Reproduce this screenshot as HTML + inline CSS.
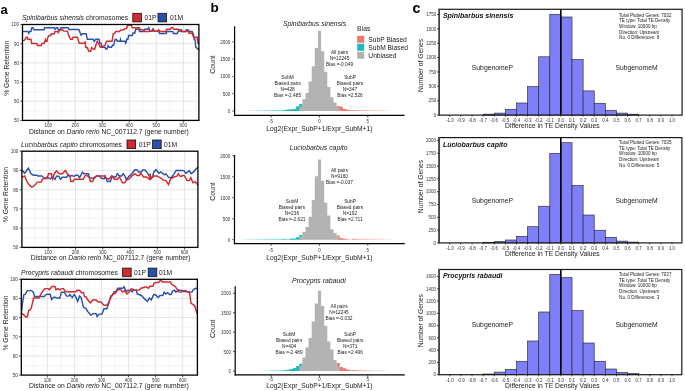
<!DOCTYPE html><html><head><meta charset="utf-8"><style>html,body{margin:0;padding:0;background:#fff;width:685px;height:391px;overflow:hidden}svg{display:block;will-change:transform;filter:blur(0.3px)}text{font-family:"Liberation Sans",sans-serif}</style></head><body><svg width="685" height="391" viewBox="0 0 685 391"><defs><linearGradient id="gT" x1="0" x2="1" y1="0" y2="0"><stop offset="0" stop-color="#1fbcbf" stop-opacity="0.15"/><stop offset="1" stop-color="#1fbcbf" stop-opacity="0.75"/></linearGradient><linearGradient id="gR" x1="0" x2="1" y1="0" y2="0"><stop offset="0" stop-color="#f4776e" stop-opacity="0.75"/><stop offset="1" stop-color="#f4776e" stop-opacity="0.12"/></linearGradient></defs><rect width="685" height="391" fill="#fff"/><text x="0.4" y="14.4" font-size="13" text-anchor="start" fill="#000" font-weight="bold" font-style="normal" >a</text>
<text x="210.6" y="12.1" font-size="13.5" text-anchor="start" fill="#000" font-weight="bold" font-style="normal" >b</text>
<text x="412.4" y="12.6" font-size="14.2" text-anchor="start" fill="#000" font-weight="bold" font-style="normal" >c</text>
<line x1="34.71" y1="24.5" x2="34.71" y2="120.4" stroke="#ebebeb" stroke-width="0.5" />
<line x1="48.22" y1="24.5" x2="48.22" y2="120.4" stroke="#dadada" stroke-width="0.7" />
<line x1="61.73" y1="24.5" x2="61.73" y2="120.4" stroke="#ebebeb" stroke-width="0.5" />
<line x1="75.24" y1="24.5" x2="75.24" y2="120.4" stroke="#dadada" stroke-width="0.7" />
<line x1="88.75" y1="24.5" x2="88.75" y2="120.4" stroke="#ebebeb" stroke-width="0.5" />
<line x1="102.26" y1="24.5" x2="102.26" y2="120.4" stroke="#dadada" stroke-width="0.7" />
<line x1="115.77" y1="24.5" x2="115.77" y2="120.4" stroke="#ebebeb" stroke-width="0.5" />
<line x1="129.28" y1="24.5" x2="129.28" y2="120.4" stroke="#dadada" stroke-width="0.7" />
<line x1="142.79" y1="24.5" x2="142.79" y2="120.4" stroke="#ebebeb" stroke-width="0.5" />
<line x1="156.3" y1="24.5" x2="156.3" y2="120.4" stroke="#dadada" stroke-width="0.7" />
<line x1="169.81" y1="24.5" x2="169.81" y2="120.4" stroke="#ebebeb" stroke-width="0.5" />
<line x1="183.32" y1="24.5" x2="183.32" y2="120.4" stroke="#dadada" stroke-width="0.7" />
<line x1="196.83" y1="24.5" x2="196.83" y2="120.4" stroke="#ebebeb" stroke-width="0.5" />
<line x1="22.5" y1="110.81" x2="198.9" y2="110.81" stroke="#ebebeb" stroke-width="0.5" />
<line x1="22.5" y1="101.22" x2="198.9" y2="101.22" stroke="#dadada" stroke-width="0.7" />
<line x1="22.5" y1="91.63" x2="198.9" y2="91.63" stroke="#ebebeb" stroke-width="0.5" />
<line x1="22.5" y1="82.04" x2="198.9" y2="82.04" stroke="#dadada" stroke-width="0.7" />
<line x1="22.5" y1="72.45" x2="198.9" y2="72.45" stroke="#ebebeb" stroke-width="0.5" />
<line x1="22.5" y1="62.86" x2="198.9" y2="62.86" stroke="#dadada" stroke-width="0.7" />
<line x1="22.5" y1="53.27" x2="198.9" y2="53.27" stroke="#ebebeb" stroke-width="0.5" />
<line x1="22.5" y1="43.68" x2="198.9" y2="43.68" stroke="#dadada" stroke-width="0.7" />
<line x1="22.5" y1="34.09" x2="198.9" y2="34.09" stroke="#ebebeb" stroke-width="0.5" />
<polyline points="22.2,31.5 28,31.5 28.8,33.3 29.5,31.5 31,31.5 31.7,27.8 32.8,27.5 33.9,29.7 44.1,29.7 44.5,27.7 54.3,27.7 55,29.3 56.5,27.7 57.6,27.7 58.3,29.7 59.8,29.7 60.9,27.7 68.2,27.7 69,29.4 78.9,29.4 80.3,33.3 81.1,35.1 82.2,33.7 86.2,33.7 87.3,39.3 93.1,39.3 94.2,41.3 95.7,39.3 99,39.3 100,43.3 101.2,43.5 101.9,47.3 104.8,47.3 105.9,49 107,49 108.1,45.7 109.2,47.3 111.4,47.3 112.5,45.3 113.6,45.3 115,39.5 116.5,39.5 117.2,41.3 120,41.3 120.5,39.5 121,41.3 125.3,41.3 125.6,43.1 126.1,42.4 126.8,39.2 127.9,39.2 128.6,35.5 132.3,35.5 133,33 134.9,33 135.6,29.3 138.9,29.3 139.6,31.5 144,31.5 144.7,29.3 147.6,29.3 148.7,27.7 149.8,31.1 151.6,31.1 152.7,29.3 153.5,31.1 158.6,31.1 159.7,33.5 166.2,33.5 166.9,31.5 172.8,31.5 173.5,33.5 177.2,33.5 178.2,31.5 179.7,29.7 181.2,29.7 181.9,31.5 185.5,31.5 186.6,29.7 187.7,29.7 188.8,31.5 192.1,31.5 193.2,33.7 194.3,39.5 195,39.5 195.8,47.2 198,49 199.2,49.5" fill="none" stroke="#2a50ae" stroke-width="1.45" stroke-linejoin="miter" stroke-linecap="butt"/>
<polyline points="22.2,40.6 24,40.6 25.1,39.2 26.2,37.3 27.3,37.3 27.7,39.3 31,39.3 31.7,43.5 36.8,43.5 37.5,45.4 41.2,45.4 41.9,43.5 44.1,43.5 44.8,41.3 45.5,39.5 46,41.3 47,41.3 47.7,37.7 49.2,35.5 50.7,35.5 51.4,33.7 54.3,33.7 55,31.5 58,31.5 58.3,33.3 58.7,31.5 59.8,30 62,30 62.3,29.3 63.8,31.1 67.4,31.1 68.5,35.1 70.5,39.3 72.3,39.3 73,37.3 77.4,37.3 79.2,43.2 84.7,43.2 85.1,41.3 85.8,47.5 87.3,47.5 88.8,51.2 90.6,51.2 91.7,47.5 93.5,49.3 94.6,49.3 95.7,45.7 97.2,41.3 98.6,43.5 100.4,47.3 104.8,45.7 106.6,41.3 112.1,41.3 113.2,33.6 114.3,33.6 115.8,31.5 119.4,31.5 120.9,30 124,29.8 125,28.6 126.5,28.6 127.6,25.3 131.2,25.3 132.3,27.7 139.2,27.7 140.3,29.7 142.9,29.7 144.7,31.5 149.8,31.5 150.5,31.1 152.7,31.1 153.5,29.3 154.2,31.1 157.8,31.1 158.6,29.7 160,31.5 165.9,31.5 166.6,29.3 170.3,29.3 171.4,27.7 172.8,27.7 173.9,29.3 178.2,29.3 179.7,31.1 181.9,31.5 188.5,31.5 188.6,29.7 189.2,33.3 192.1,33.3 193.6,37.3 197.2,37.3 198,43.2 199.2,43" fill="none" stroke="#d32a2e" stroke-width="1.45" stroke-linejoin="miter" stroke-linecap="butt"/>
<rect x="22.5" y="24.5" width="176.4" height="95.9" fill="none" stroke="#000" stroke-width="1.3" />
<line x1="20.3" y1="120.4" x2="22.5" y2="120.4" stroke="#222" stroke-width="0.8" />
<text x="19" y="122.3" font-size="4.6" text-anchor="end" fill="#333333" font-weight="normal" font-style="normal" >50</text>
<line x1="20.3" y1="101.22" x2="22.5" y2="101.22" stroke="#222" stroke-width="0.8" />
<text x="19" y="103.12" font-size="4.6" text-anchor="end" fill="#333333" font-weight="normal" font-style="normal" >60</text>
<line x1="20.3" y1="82.04" x2="22.5" y2="82.04" stroke="#222" stroke-width="0.8" />
<text x="19" y="83.94" font-size="4.6" text-anchor="end" fill="#333333" font-weight="normal" font-style="normal" >70</text>
<line x1="20.3" y1="62.86" x2="22.5" y2="62.86" stroke="#222" stroke-width="0.8" />
<text x="19" y="64.76" font-size="4.6" text-anchor="end" fill="#333333" font-weight="normal" font-style="normal" >80</text>
<line x1="20.3" y1="43.68" x2="22.5" y2="43.68" stroke="#222" stroke-width="0.8" />
<text x="19" y="45.58" font-size="4.6" text-anchor="end" fill="#333333" font-weight="normal" font-style="normal" >90</text>
<line x1="20.3" y1="24.5" x2="22.5" y2="24.5" stroke="#222" stroke-width="0.8" />
<text x="19" y="26.4" font-size="4.6" text-anchor="end" fill="#333333" font-weight="normal" font-style="normal" >100</text>
<line x1="48.22" y1="120.4" x2="48.22" y2="122.6" stroke="#222" stroke-width="0.8" />
<text x="48.22" y="126.8" font-size="4.5" text-anchor="middle" fill="#333333" font-weight="normal" font-style="normal" >100</text>
<line x1="75.24" y1="120.4" x2="75.24" y2="122.6" stroke="#222" stroke-width="0.8" />
<text x="75.24" y="126.8" font-size="4.5" text-anchor="middle" fill="#333333" font-weight="normal" font-style="normal" >200</text>
<line x1="102.26" y1="120.4" x2="102.26" y2="122.6" stroke="#222" stroke-width="0.8" />
<text x="102.26" y="126.8" font-size="4.5" text-anchor="middle" fill="#333333" font-weight="normal" font-style="normal" >300</text>
<line x1="129.28" y1="120.4" x2="129.28" y2="122.6" stroke="#222" stroke-width="0.8" />
<text x="129.28" y="126.8" font-size="4.5" text-anchor="middle" fill="#333333" font-weight="normal" font-style="normal" >400</text>
<line x1="156.3" y1="120.4" x2="156.3" y2="122.6" stroke="#222" stroke-width="0.8" />
<text x="156.3" y="126.8" font-size="4.5" text-anchor="middle" fill="#333333" font-weight="normal" font-style="normal" >500</text>
<line x1="183.32" y1="120.4" x2="183.32" y2="122.6" stroke="#222" stroke-width="0.8" />
<text x="183.32" y="126.8" font-size="4.5" text-anchor="middle" fill="#333333" font-weight="normal" font-style="normal" >600</text>
<text x="22" y="19.7" font-size="6.75" text-anchor="start" fill="#1a1a1a" font-weight="normal" font-style="normal" ><tspan font-style="italic">Spinibarbus sinensis</tspan> chromosomes</text>
<rect x="132.8" y="13.3" width="8.6" height="8.6" fill="#d32a2e" stroke="#111" stroke-width="0.8" />
<text x="144.5" y="19.7" font-size="6.75" text-anchor="start" fill="#1a1a1a" font-weight="normal" font-style="normal" >01P</text>
<rect x="158" y="13.3" width="8.6" height="8.6" fill="#2a50ae" stroke="#111" stroke-width="0.8" />
<text x="169.9" y="19.7" font-size="6.75" text-anchor="start" fill="#1a1a1a" font-weight="normal" font-style="normal" >01M</text>
<text x="29" y="133.5" font-size="6.75" text-anchor="start" fill="#1a1a1a" font-weight="normal" font-style="normal" >Distance on <tspan font-style="italic">Danio rerio</tspan> NC_007112.7 (gene number)</text>
<text x="0" y="0" font-size="6.75" fill="#1a1a1a" text-anchor="middle" transform="translate(9.2,68.2) rotate(-90)">% Gene Retention</text>
<line x1="34.54" y1="151.2" x2="34.54" y2="247.4" stroke="#ebebeb" stroke-width="0.5" />
<line x1="48.18" y1="151.2" x2="48.18" y2="247.4" stroke="#dadada" stroke-width="0.7" />
<line x1="61.82" y1="151.2" x2="61.82" y2="247.4" stroke="#ebebeb" stroke-width="0.5" />
<line x1="75.46" y1="151.2" x2="75.46" y2="247.4" stroke="#dadada" stroke-width="0.7" />
<line x1="89.1" y1="151.2" x2="89.1" y2="247.4" stroke="#ebebeb" stroke-width="0.5" />
<line x1="102.74" y1="151.2" x2="102.74" y2="247.4" stroke="#dadada" stroke-width="0.7" />
<line x1="116.38" y1="151.2" x2="116.38" y2="247.4" stroke="#ebebeb" stroke-width="0.5" />
<line x1="130.02" y1="151.2" x2="130.02" y2="247.4" stroke="#dadada" stroke-width="0.7" />
<line x1="143.66" y1="151.2" x2="143.66" y2="247.4" stroke="#ebebeb" stroke-width="0.5" />
<line x1="157.3" y1="151.2" x2="157.3" y2="247.4" stroke="#dadada" stroke-width="0.7" />
<line x1="170.94" y1="151.2" x2="170.94" y2="247.4" stroke="#ebebeb" stroke-width="0.5" />
<line x1="184.58" y1="151.2" x2="184.58" y2="247.4" stroke="#dadada" stroke-width="0.7" />
<line x1="21.9" y1="237.78" x2="197.9" y2="237.78" stroke="#ebebeb" stroke-width="0.5" />
<line x1="21.9" y1="228.16" x2="197.9" y2="228.16" stroke="#dadada" stroke-width="0.7" />
<line x1="21.9" y1="218.54" x2="197.9" y2="218.54" stroke="#ebebeb" stroke-width="0.5" />
<line x1="21.9" y1="208.92" x2="197.9" y2="208.92" stroke="#dadada" stroke-width="0.7" />
<line x1="21.9" y1="199.3" x2="197.9" y2="199.3" stroke="#ebebeb" stroke-width="0.5" />
<line x1="21.9" y1="189.68" x2="197.9" y2="189.68" stroke="#dadada" stroke-width="0.7" />
<line x1="21.9" y1="180.06" x2="197.9" y2="180.06" stroke="#ebebeb" stroke-width="0.5" />
<line x1="21.9" y1="170.44" x2="197.9" y2="170.44" stroke="#dadada" stroke-width="0.7" />
<line x1="21.9" y1="160.82" x2="197.9" y2="160.82" stroke="#ebebeb" stroke-width="0.5" />
<polyline points="22,170 24.7,173.3 26.9,170 28.4,168.2 30.9,173.7 33.5,175.2 36.8,175.2 37.9,175.9 41.9,175.9 43,177 45,178.5 47,177 50,178.8 52.8,177 55,179.2 56.5,176.2 58.7,176.2 60.5,179.2 62.3,177.3 66.7,177.3 67.8,175.2 69.4,176.2 72.3,175.5 74,176.5 76,175 78.1,175.5 79.6,177.7 82.5,172.2 84,173.7 88.4,173.7 89.8,177.7 94.2,178.4 96.4,175.9 99.3,175.9 101.5,178.4 104.4,178.4 105.1,175.9 107.3,181.4 110.3,181.4 112.2,176.2 114.4,177 115.8,177 117.3,173.7 119.5,175.9 121.7,175.9 123.1,173.7 124.6,175.5 126.4,179.5 129,176.2 131.9,173.7 134.8,169.7 137,169.7 138.5,171.9 141.4,171.9 142.8,170 145,170 147.2,172.6 150.1,177.3 152.3,177.3 153.8,172.2 156,169.7 159,173.3 160.8,171.9 164.5,174.8 165.9,173.7 168.5,177.3 171.1,177.7 174,174.1 176.2,170.4 182,170.4 184.2,170.8 185.7,173.3 189.3,170.8 191.1,173.7 193.7,171.9 195.9,169 198.2,167.1" fill="none" stroke="#2a50ae" stroke-width="1.45" stroke-linejoin="miter" stroke-linecap="butt"/>
<polyline points="22,177.3 24.7,175.9 26.6,181 28.8,184.3 30.4,186.2 31.8,187.2 33.9,186 35.7,184.3 37.2,182.1 41.2,182.1 42.3,179.2 44.1,178.4 47,178.4 48.5,173.7 51.4,173.7 52.5,178.8 54.3,173.7 56.5,170.8 59.4,173.7 62.3,173.7 65.3,170.4 67.4,173.7 70,175.9 70.8,181.4 73,181.4 74.5,179.2 83.2,179.2 85.4,175.5 86.9,175.5 89.1,177.3 90.5,181.4 92.7,181.4 94.2,177.3 97.1,175.9 104.4,175.9 106.6,178.4 108.8,179.2 111.7,175.9 112.2,176.6 114.4,179.2 117.3,179.2 119.5,177 122.4,182.8 124.6,182.8 126.8,179.9 129,179.2 131.9,175.9 134.8,173.7 137,175.5 139.2,175.5 140.7,173.3 143.6,177 146.5,177 149.4,179.2 150.1,173.7 150.8,179.2 153.8,175.9 156.7,175.9 160.1,177.7 163,179.9 165.9,180.6 168.5,184.6 170.7,178.8 174,177 176.9,176.2 178.4,173.7 180.5,176.6 182.7,175.5 184.2,175.5 187.1,180.6 189.3,180.6 190.8,177.7 193,182.8 195.1,181.7 198.2,185.4" fill="none" stroke="#d32a2e" stroke-width="1.45" stroke-linejoin="miter" stroke-linecap="butt"/>
<rect x="21.9" y="151.2" width="176" height="96.2" fill="none" stroke="#000" stroke-width="1.3" />
<line x1="19.7" y1="247.4" x2="21.9" y2="247.4" stroke="#222" stroke-width="0.8" />
<text x="18.4" y="249.3" font-size="4.6" text-anchor="end" fill="#333333" font-weight="normal" font-style="normal" >50</text>
<line x1="19.7" y1="228.16" x2="21.9" y2="228.16" stroke="#222" stroke-width="0.8" />
<text x="18.4" y="230.06" font-size="4.6" text-anchor="end" fill="#333333" font-weight="normal" font-style="normal" >60</text>
<line x1="19.7" y1="208.92" x2="21.9" y2="208.92" stroke="#222" stroke-width="0.8" />
<text x="18.4" y="210.82" font-size="4.6" text-anchor="end" fill="#333333" font-weight="normal" font-style="normal" >70</text>
<line x1="19.7" y1="189.68" x2="21.9" y2="189.68" stroke="#222" stroke-width="0.8" />
<text x="18.4" y="191.58" font-size="4.6" text-anchor="end" fill="#333333" font-weight="normal" font-style="normal" >80</text>
<line x1="19.7" y1="170.44" x2="21.9" y2="170.44" stroke="#222" stroke-width="0.8" />
<text x="18.4" y="172.34" font-size="4.6" text-anchor="end" fill="#333333" font-weight="normal" font-style="normal" >90</text>
<line x1="19.7" y1="151.2" x2="21.9" y2="151.2" stroke="#222" stroke-width="0.8" />
<text x="18.4" y="153.1" font-size="4.6" text-anchor="end" fill="#333333" font-weight="normal" font-style="normal" >100</text>
<line x1="48.18" y1="247.4" x2="48.18" y2="249.6" stroke="#222" stroke-width="0.8" />
<text x="48.18" y="253.8" font-size="4.5" text-anchor="middle" fill="#333333" font-weight="normal" font-style="normal" >100</text>
<line x1="75.46" y1="247.4" x2="75.46" y2="249.6" stroke="#222" stroke-width="0.8" />
<text x="75.46" y="253.8" font-size="4.5" text-anchor="middle" fill="#333333" font-weight="normal" font-style="normal" >200</text>
<line x1="102.74" y1="247.4" x2="102.74" y2="249.6" stroke="#222" stroke-width="0.8" />
<text x="102.74" y="253.8" font-size="4.5" text-anchor="middle" fill="#333333" font-weight="normal" font-style="normal" >300</text>
<line x1="130.02" y1="247.4" x2="130.02" y2="249.6" stroke="#222" stroke-width="0.8" />
<text x="130.02" y="253.8" font-size="4.5" text-anchor="middle" fill="#333333" font-weight="normal" font-style="normal" >400</text>
<line x1="157.3" y1="247.4" x2="157.3" y2="249.6" stroke="#222" stroke-width="0.8" />
<text x="157.3" y="253.8" font-size="4.5" text-anchor="middle" fill="#333333" font-weight="normal" font-style="normal" >500</text>
<line x1="184.58" y1="247.4" x2="184.58" y2="249.6" stroke="#222" stroke-width="0.8" />
<text x="184.58" y="253.8" font-size="4.5" text-anchor="middle" fill="#333333" font-weight="normal" font-style="normal" >600</text>
<text x="21" y="147" font-size="6.75" text-anchor="start" fill="#1a1a1a" font-weight="normal" font-style="normal" ><tspan font-style="italic">Luciobarbus capito</tspan> chromosomes</text>
<rect x="127" y="140" width="8.6" height="8.6" fill="#d32a2e" stroke="#111" stroke-width="0.8" />
<text x="138.7" y="147" font-size="6.75" text-anchor="start" fill="#1a1a1a" font-weight="normal" font-style="normal" >01P</text>
<rect x="152.6" y="140" width="8.6" height="8.6" fill="#2a50ae" stroke="#111" stroke-width="0.8" />
<text x="163.9" y="147" font-size="6.75" text-anchor="start" fill="#1a1a1a" font-weight="normal" font-style="normal" >01M</text>
<text x="30.8" y="260.2" font-size="6.75" text-anchor="start" fill="#1a1a1a" font-weight="normal" font-style="normal" >Distance on <tspan font-style="italic">Danio rerio</tspan> NC_007112.7 (gene number)</text>
<text x="0" y="0" font-size="6.75" fill="#1a1a1a" text-anchor="middle" transform="translate(8.3,194.6) rotate(-90)">% Gene Retention</text>
<line x1="33.88" y1="279.3" x2="33.88" y2="375.1" stroke="#ebebeb" stroke-width="0.5" />
<line x1="47.41" y1="279.3" x2="47.41" y2="375.1" stroke="#dadada" stroke-width="0.7" />
<line x1="60.94" y1="279.3" x2="60.94" y2="375.1" stroke="#ebebeb" stroke-width="0.5" />
<line x1="74.47" y1="279.3" x2="74.47" y2="375.1" stroke="#dadada" stroke-width="0.7" />
<line x1="88" y1="279.3" x2="88" y2="375.1" stroke="#ebebeb" stroke-width="0.5" />
<line x1="101.53" y1="279.3" x2="101.53" y2="375.1" stroke="#dadada" stroke-width="0.7" />
<line x1="115.06" y1="279.3" x2="115.06" y2="375.1" stroke="#ebebeb" stroke-width="0.5" />
<line x1="128.59" y1="279.3" x2="128.59" y2="375.1" stroke="#dadada" stroke-width="0.7" />
<line x1="142.12" y1="279.3" x2="142.12" y2="375.1" stroke="#ebebeb" stroke-width="0.5" />
<line x1="155.65" y1="279.3" x2="155.65" y2="375.1" stroke="#dadada" stroke-width="0.7" />
<line x1="169.18" y1="279.3" x2="169.18" y2="375.1" stroke="#ebebeb" stroke-width="0.5" />
<line x1="182.71" y1="279.3" x2="182.71" y2="375.1" stroke="#dadada" stroke-width="0.7" />
<line x1="196.24" y1="279.3" x2="196.24" y2="375.1" stroke="#ebebeb" stroke-width="0.5" />
<line x1="21.3" y1="365.52" x2="197.4" y2="365.52" stroke="#ebebeb" stroke-width="0.5" />
<line x1="21.3" y1="355.94" x2="197.4" y2="355.94" stroke="#dadada" stroke-width="0.7" />
<line x1="21.3" y1="346.36" x2="197.4" y2="346.36" stroke="#ebebeb" stroke-width="0.5" />
<line x1="21.3" y1="336.78" x2="197.4" y2="336.78" stroke="#dadada" stroke-width="0.7" />
<line x1="21.3" y1="327.2" x2="197.4" y2="327.2" stroke="#ebebeb" stroke-width="0.5" />
<line x1="21.3" y1="317.62" x2="197.4" y2="317.62" stroke="#dadada" stroke-width="0.7" />
<line x1="21.3" y1="308.04" x2="197.4" y2="308.04" stroke="#ebebeb" stroke-width="0.5" />
<line x1="21.3" y1="298.46" x2="197.4" y2="298.46" stroke="#dadada" stroke-width="0.7" />
<line x1="21.3" y1="288.88" x2="197.4" y2="288.88" stroke="#ebebeb" stroke-width="0.5" />
<polyline points="21.8,311.2 22.4,303.4 23.9,294.6 25.4,294.2 27.3,290.6 31.7,290.6 33.6,292.7 34.6,296.4 44.3,296.4 45.8,294.6 47.7,294.2 50.2,294.2 51.6,299.5 54,297.1 57,298 59.9,298 61.3,292.2 64.3,292.2 66.5,296.1 68.9,296.1 69.9,294.6 72.3,297.6 74.2,294.6 75.7,296.6 77.6,301.5 79.6,296.1 81.1,297.6 83.5,307.3 85.9,308.3 87.4,311.2 90.8,315.1 93.2,313.6 96.1,313.6 97.1,316.5 99,314.1 102,314.1 103.9,308.8 106.8,308.8 108.8,303.4 110.7,296.1 112.7,294.6 114.1,291.7 115.8,291.6 117.8,288.2 122.6,288.2 124.1,286.7 126.1,291.6 128,290.1 130.4,290.1 132.4,291.6 133.3,290.1 136.3,290.1 137.2,294 140.2,295 142.1,296 144.5,298.9 147.5,301.3 149.4,297.9 151.3,299.9 153.8,294.5 155.7,295 158.2,297.4 159.9,295.5 162.8,295.5 164.2,292.1 165.7,294 167.6,292.6 169.6,294.5 171.1,294.5 172.5,291.1 174.5,290.1 175.9,292.1 178.3,290.1 183.2,290.6 186.1,290.6 187.1,292.1 192,292.1 193.4,289.6 195.9,288.2 197.3,288.5" fill="none" stroke="#2a50ae" stroke-width="1.45" stroke-linejoin="miter" stroke-linecap="butt"/>
<polyline points="21.8,313.1 23.9,315.1 25.8,317 27.3,317 28.8,310.2 29.7,310.2 31.2,308.3 33.6,298 39,298 40.4,295.1 42.4,291.7 44.8,288.6 48.2,288.6 49.2,289.8 52.1,286.4 55,286.4 56,289.8 57.9,288.6 59.9,289.8 61.8,288.6 63.3,288.6 65.7,291.7 75.7,291.7 77.6,290.3 79.6,290.3 81.5,292.7 83.5,292.7 84.5,296.6 85.9,296.6 87.9,300 90.3,302.9 92.7,300 96.1,300 98.1,301.9 101,301.9 103.9,305.3 106.8,305.3 108.8,302.4 110.7,297.6 113.6,293.7 115.4,293.5 117.8,289.6 120.7,289.6 122.6,292.1 124.6,290.6 127,294 129.5,291.6 131.4,288.7 134.3,290.1 139.2,290.1 141.1,288.2 146,286.7 148.4,288.2 149.9,286.2 152.8,286.2 154.3,282.8 156.7,282.4 158.6,282.4 160.8,279.9 162.3,281.9 170.6,281.9 171.5,284.3 173.5,285.3 175.4,286.7 177.4,289.6 178.3,291.6 180.3,292.1 181.3,292.1 182.2,291.6 189,291.6 190,295.5 191,303.3 193.4,304.7 194.9,306.2 196.8,313 197.3,314" fill="none" stroke="#d32a2e" stroke-width="1.45" stroke-linejoin="miter" stroke-linecap="butt"/>
<rect x="21.3" y="279.3" width="176.1" height="95.8" fill="none" stroke="#000" stroke-width="1.3" />
<line x1="19.1" y1="375.1" x2="21.3" y2="375.1" stroke="#222" stroke-width="0.8" />
<text x="17.8" y="377" font-size="4.6" text-anchor="end" fill="#333333" font-weight="normal" font-style="normal" >50</text>
<line x1="19.1" y1="355.94" x2="21.3" y2="355.94" stroke="#222" stroke-width="0.8" />
<text x="17.8" y="357.84" font-size="4.6" text-anchor="end" fill="#333333" font-weight="normal" font-style="normal" >60</text>
<line x1="19.1" y1="336.78" x2="21.3" y2="336.78" stroke="#222" stroke-width="0.8" />
<text x="17.8" y="338.68" font-size="4.6" text-anchor="end" fill="#333333" font-weight="normal" font-style="normal" >70</text>
<line x1="19.1" y1="317.62" x2="21.3" y2="317.62" stroke="#222" stroke-width="0.8" />
<text x="17.8" y="319.52" font-size="4.6" text-anchor="end" fill="#333333" font-weight="normal" font-style="normal" >80</text>
<line x1="19.1" y1="298.46" x2="21.3" y2="298.46" stroke="#222" stroke-width="0.8" />
<text x="17.8" y="300.36" font-size="4.6" text-anchor="end" fill="#333333" font-weight="normal" font-style="normal" >90</text>
<line x1="19.1" y1="279.3" x2="21.3" y2="279.3" stroke="#222" stroke-width="0.8" />
<text x="17.8" y="281.2" font-size="4.6" text-anchor="end" fill="#333333" font-weight="normal" font-style="normal" >100</text>
<line x1="47.41" y1="375.1" x2="47.41" y2="377.3" stroke="#222" stroke-width="0.8" />
<text x="47.41" y="381.5" font-size="4.5" text-anchor="middle" fill="#333333" font-weight="normal" font-style="normal" >100</text>
<line x1="74.47" y1="375.1" x2="74.47" y2="377.3" stroke="#222" stroke-width="0.8" />
<text x="74.47" y="381.5" font-size="4.5" text-anchor="middle" fill="#333333" font-weight="normal" font-style="normal" >200</text>
<line x1="101.53" y1="375.1" x2="101.53" y2="377.3" stroke="#222" stroke-width="0.8" />
<text x="101.53" y="381.5" font-size="4.5" text-anchor="middle" fill="#333333" font-weight="normal" font-style="normal" >300</text>
<line x1="128.59" y1="375.1" x2="128.59" y2="377.3" stroke="#222" stroke-width="0.8" />
<text x="128.59" y="381.5" font-size="4.5" text-anchor="middle" fill="#333333" font-weight="normal" font-style="normal" >400</text>
<line x1="155.65" y1="375.1" x2="155.65" y2="377.3" stroke="#222" stroke-width="0.8" />
<text x="155.65" y="381.5" font-size="4.5" text-anchor="middle" fill="#333333" font-weight="normal" font-style="normal" >500</text>
<line x1="182.71" y1="375.1" x2="182.71" y2="377.3" stroke="#222" stroke-width="0.8" />
<text x="182.71" y="381.5" font-size="4.5" text-anchor="middle" fill="#333333" font-weight="normal" font-style="normal" >600</text>
<text x="21" y="274.7" font-size="6.75" text-anchor="start" fill="#1a1a1a" font-weight="normal" font-style="normal" ><tspan font-style="italic">Procypris rabaudi</tspan> chromosomes</text>
<rect x="122.6" y="268.1" width="8.6" height="8.6" fill="#d32a2e" stroke="#111" stroke-width="0.8" />
<text x="133.9" y="274.7" font-size="6.75" text-anchor="start" fill="#1a1a1a" font-weight="normal" font-style="normal" >01P</text>
<rect x="148.2" y="268.1" width="8.6" height="8.6" fill="#2a50ae" stroke="#111" stroke-width="0.8" />
<text x="159.1" y="274.7" font-size="6.75" text-anchor="start" fill="#1a1a1a" font-weight="normal" font-style="normal" >01M</text>
<text x="29" y="388.2" font-size="6.75" text-anchor="start" fill="#1a1a1a" font-weight="normal" font-style="normal" >Distance on <tspan font-style="italic">Danio rerio</tspan> NC_007112.7 (gene number)</text>
<text x="0" y="0" font-size="6.75" fill="#1a1a1a" text-anchor="middle" transform="translate(8.3,323) rotate(-90)">% Gene Retention</text>
<rect x="248.3" y="110.1" width="38.4" height="0.9" fill="url(#gT)" stroke="none" stroke-width="0" />
<rect x="352" y="110.1" width="38" height="0.9" fill="url(#gR)" stroke="none" stroke-width="0" />
<path d="M283.62 111 L283.62 110 L286.74 110 L286.74 109.5 L289.86 109.5 L289.86 109.3 L292.98 109.3 L292.98 109 L296.1 109 L296.1 106.3 L299.22 106.3 L299.22 104 L302.34 104 L302.34 111Z" fill="#1fbcbf"/>
<path d="M336.66 111 L336.66 106 L339.78 106 L339.78 106.8 L342.9 106.8 L342.9 109 L346.02 109 L346.02 109.8 L349.14 109.8 L349.14 110.2 L352.26 110.2 L352.26 110.4 L355.38 110.4 L355.38 111Z" fill="#f4776e"/>
<path d="M299.22 111 L299.22 106.8 L302.34 106.8 L302.34 99.2 L305.46 99.2 L305.46 93.1 L308.58 93.1 L308.58 81.5 L311.7 81.5 L311.7 66.2 L314.82 66.2 L314.82 48 L317.94 48 L317.94 30.8 L321.06 30.8 L321.06 51.2 L324.18 51.2 L324.18 71.8 L327.3 71.8 L327.3 87 L330.42 87 L330.42 97.3 L333.54 97.3 L333.54 102.4 L336.66 102.4 L336.66 107.5 L339.78 107.5 L339.78 111Z" fill="#b3b3b3"/>
<line x1="234.6" y1="26.2" x2="234.6" y2="115.9" stroke="#000" stroke-width="1.2" />
<line x1="234" y1="115.3" x2="404.5" y2="115.3" stroke="#000" stroke-width="1.2" />
<line x1="232.4" y1="111" x2="234.6" y2="111" stroke="#222" stroke-width="0.8" />
<text x="230.3" y="112.9" font-size="4.5" text-anchor="end" fill="#333333" font-weight="normal" font-style="normal" >0</text>
<line x1="232.4" y1="93.7" x2="234.6" y2="93.7" stroke="#222" stroke-width="0.8" />
<text x="230.3" y="95.6" font-size="4.5" text-anchor="end" fill="#333333" font-weight="normal" font-style="normal" >500</text>
<line x1="232.4" y1="76.4" x2="234.6" y2="76.4" stroke="#222" stroke-width="0.8" />
<text x="230.3" y="78.3" font-size="4.5" text-anchor="end" fill="#333333" font-weight="normal" font-style="normal" >1000</text>
<line x1="232.4" y1="59.1" x2="234.6" y2="59.1" stroke="#222" stroke-width="0.8" />
<text x="230.3" y="61" font-size="4.5" text-anchor="end" fill="#333333" font-weight="normal" font-style="normal" >1500</text>
<line x1="232.4" y1="41.8" x2="234.6" y2="41.8" stroke="#222" stroke-width="0.8" />
<text x="230.3" y="43.7" font-size="4.5" text-anchor="end" fill="#333333" font-weight="normal" font-style="normal" >2000</text>
<line x1="271.1" y1="115.3" x2="271.1" y2="117.5" stroke="#222" stroke-width="0.8" />
<text x="271.1" y="122.6" font-size="4.45" text-anchor="middle" fill="#333333" font-weight="normal" font-style="normal" >-5</text>
<line x1="319.45" y1="115.3" x2="319.45" y2="117.5" stroke="#222" stroke-width="0.8" />
<text x="319.45" y="122.6" font-size="4.45" text-anchor="middle" fill="#333333" font-weight="normal" font-style="normal" >0</text>
<line x1="367.8" y1="115.3" x2="367.8" y2="117.5" stroke="#222" stroke-width="0.8" />
<text x="367.8" y="122.6" font-size="4.45" text-anchor="middle" fill="#333333" font-weight="normal" font-style="normal" >5</text>
<text x="314.5" y="25.9" font-size="6.9" text-anchor="middle" fill="#1a1a1a" font-weight="normal" font-style="italic" >Spinibarbus sinensis</text>
<text x="319.4" y="131.2" font-size="6.75" text-anchor="middle" fill="#1a1a1a" font-weight="normal" font-style="normal" >Log2(Expr_SubP+1/Expr_SubM+1)</text>
<text x="0" y="0" font-size="6.9" fill="#1a1a1a" text-anchor="middle" transform="translate(214.9,64.5) rotate(-90)">Count</text>
<text x="339.6" y="53.95" font-size="4.8" text-anchor="middle" fill="#222" font-weight="normal" font-style="normal" >All pairs</text>
<text x="339.6" y="60" font-size="4.8" text-anchor="middle" fill="#222" font-weight="normal" font-style="normal" >N=12245</text>
<text x="339.6" y="66.05" font-size="4.8" text-anchor="middle" fill="#222" font-weight="normal" font-style="normal" >Bias =-0.049</text>
<text x="287.6" y="78.65" font-size="4.8" text-anchor="middle" fill="#222" font-weight="normal" font-style="normal" >SubM</text>
<text x="287.6" y="84.7" font-size="4.8" text-anchor="middle" fill="#222" font-weight="normal" font-style="normal" >Biased pairs</text>
<text x="287.6" y="90.75" font-size="4.8" text-anchor="middle" fill="#222" font-weight="normal" font-style="normal" >N=428</text>
<text x="287.6" y="96.8" font-size="4.8" text-anchor="middle" fill="#222" font-weight="normal" font-style="normal" >Bias =-2.485</text>
<text x="350" y="78.65" font-size="4.8" text-anchor="middle" fill="#222" font-weight="normal" font-style="normal" >SubP</text>
<text x="350" y="84.7" font-size="4.8" text-anchor="middle" fill="#222" font-weight="normal" font-style="normal" >Biased pairs</text>
<text x="350" y="90.75" font-size="4.8" text-anchor="middle" fill="#222" font-weight="normal" font-style="normal" >N=347</text>
<text x="350" y="96.8" font-size="4.8" text-anchor="middle" fill="#222" font-weight="normal" font-style="normal" >Bias =2.526</text>
<rect x="241.5" y="238.8" width="45.2" height="0.9" fill="url(#gT)" stroke="none" stroke-width="0" />
<rect x="352" y="238.8" width="41" height="0.9" fill="url(#gR)" stroke="none" stroke-width="0" />
<path d="M283.62 239.7 L283.62 239.4 L286.74 239.4 L286.74 239.2 L289.86 239.2 L289.86 238.5 L292.98 238.5 L292.98 238.5 L296.1 238.5 L296.1 237.2 L299.22 237.2 L299.22 235.1 L302.34 235.1 L302.34 239.7Z" fill="#1fbcbf"/>
<path d="M336.66 239.7 L336.66 235.5 L339.78 235.5 L339.78 237.9 L342.9 237.9 L342.9 238.8 L346.02 238.8 L346.02 239.3 L349.14 239.3 L349.14 239.5 L352.26 239.5 L352.26 239.6 L355.38 239.6 L355.38 239.7Z" fill="#f4776e"/>
<path d="M299.22 239.7 L299.22 236.8 L302.34 236.8 L302.34 232.1 L305.46 232.1 L305.46 227 L308.58 227 L308.58 216.7 L311.7 216.7 L311.7 200.1 L314.82 200.1 L314.82 176.2 L317.94 176.2 L317.94 159.6 L321.06 159.6 L321.06 180.7 L324.18 180.7 L324.18 202.7 L327.3 202.7 L327.3 215.5 L330.42 215.5 L330.42 229.3 L333.54 229.3 L333.54 233.1 L336.66 233.1 L336.66 236.8 L339.78 236.8 L339.78 239.7Z" fill="#b3b3b3"/>
<line x1="234.5" y1="155.1" x2="234.5" y2="244.2" stroke="#000" stroke-width="1.2" />
<line x1="233.9" y1="243.6" x2="404.8" y2="243.6" stroke="#000" stroke-width="1.2" />
<line x1="232.3" y1="239.7" x2="234.5" y2="239.7" stroke="#222" stroke-width="0.8" />
<text x="230.2" y="241.6" font-size="4.5" text-anchor="end" fill="#333333" font-weight="normal" font-style="normal" >0</text>
<line x1="232.3" y1="218.7" x2="234.5" y2="218.7" stroke="#222" stroke-width="0.8" />
<text x="230.2" y="220.6" font-size="4.5" text-anchor="end" fill="#333333" font-weight="normal" font-style="normal" >500</text>
<line x1="232.3" y1="197.7" x2="234.5" y2="197.7" stroke="#222" stroke-width="0.8" />
<text x="230.2" y="199.6" font-size="4.5" text-anchor="end" fill="#333333" font-weight="normal" font-style="normal" >1000</text>
<line x1="232.3" y1="176.7" x2="234.5" y2="176.7" stroke="#222" stroke-width="0.8" />
<text x="230.2" y="178.6" font-size="4.5" text-anchor="end" fill="#333333" font-weight="normal" font-style="normal" >1500</text>
<line x1="232.3" y1="155.7" x2="234.5" y2="155.7" stroke="#222" stroke-width="0.8" />
<text x="230.2" y="157.6" font-size="4.5" text-anchor="end" fill="#333333" font-weight="normal" font-style="normal" >2000</text>
<line x1="271.1" y1="243.6" x2="271.1" y2="245.8" stroke="#222" stroke-width="0.8" />
<text x="271.1" y="251.8" font-size="4.45" text-anchor="middle" fill="#333333" font-weight="normal" font-style="normal" >-5</text>
<line x1="319.45" y1="243.6" x2="319.45" y2="245.8" stroke="#222" stroke-width="0.8" />
<text x="319.45" y="251.8" font-size="4.45" text-anchor="middle" fill="#333333" font-weight="normal" font-style="normal" >0</text>
<line x1="367.8" y1="243.6" x2="367.8" y2="245.8" stroke="#222" stroke-width="0.8" />
<text x="367.8" y="251.8" font-size="4.45" text-anchor="middle" fill="#333333" font-weight="normal" font-style="normal" >5</text>
<text x="318.6" y="150" font-size="6.9" text-anchor="middle" fill="#1a1a1a" font-weight="normal" font-style="italic" >Luciobarbus capito</text>
<text x="319.4" y="260.3" font-size="6.75" text-anchor="middle" fill="#1a1a1a" font-weight="normal" font-style="normal" >Log2(Expr_SubP+1/Expr_SubM+1)</text>
<text x="0" y="0" font-size="6.9" fill="#1a1a1a" text-anchor="middle" transform="translate(214.9,191.5) rotate(-90)">Count</text>
<text x="339.5" y="172.15" font-size="4.8" text-anchor="middle" fill="#222" font-weight="normal" font-style="normal" >All pairs</text>
<text x="339.5" y="178.2" font-size="4.8" text-anchor="middle" fill="#222" font-weight="normal" font-style="normal" >N=9160</text>
<text x="339.5" y="184.25" font-size="4.8" text-anchor="middle" fill="#222" font-weight="normal" font-style="normal" >Bias =-0.037</text>
<text x="292" y="202.55" font-size="4.8" text-anchor="middle" fill="#222" font-weight="normal" font-style="normal" >SubM</text>
<text x="292" y="208.6" font-size="4.8" text-anchor="middle" fill="#222" font-weight="normal" font-style="normal" >Biased pairs</text>
<text x="292" y="214.65" font-size="4.8" text-anchor="middle" fill="#222" font-weight="normal" font-style="normal" >N=236</text>
<text x="292" y="220.7" font-size="4.8" text-anchor="middle" fill="#222" font-weight="normal" font-style="normal" >Bias =-2.621</text>
<text x="350" y="202.55" font-size="4.8" text-anchor="middle" fill="#222" font-weight="normal" font-style="normal" >SubP</text>
<text x="350" y="208.6" font-size="4.8" text-anchor="middle" fill="#222" font-weight="normal" font-style="normal" >Biased pairs</text>
<text x="350" y="214.65" font-size="4.8" text-anchor="middle" fill="#222" font-weight="normal" font-style="normal" >N=192</text>
<text x="350" y="220.7" font-size="4.8" text-anchor="middle" fill="#222" font-weight="normal" font-style="normal" >Bias =2.711</text>
<rect x="262" y="370.2" width="24.7" height="0.9" fill="url(#gT)" stroke="none" stroke-width="0" />
<rect x="352" y="370.2" width="35.6" height="0.9" fill="url(#gR)" stroke="none" stroke-width="0" />
<path d="M283.62 371.1 L283.62 370.3 L286.74 370.3 L286.74 369.7 L289.86 369.7 L289.86 369 L292.98 369 L292.98 368.1 L296.1 368.1 L296.1 366 L299.22 366 L299.22 363.7 L302.34 363.7 L302.34 371.1Z" fill="#1fbcbf"/>
<path d="M336.66 371.1 L336.66 363.1 L339.78 363.1 L339.78 366.9 L342.9 366.9 L342.9 368.3 L346.02 368.3 L346.02 369.4 L349.14 369.4 L349.14 370.2 L352.26 370.2 L352.26 370.5 L355.38 370.5 L355.38 371.1Z" fill="#f4776e"/>
<path d="M299.22 371.1 L299.22 365.9 L302.34 365.9 L302.34 357.6 L305.46 357.6 L305.46 347.5 L308.58 347.5 L308.58 337.9 L311.7 337.9 L311.7 321.5 L314.82 321.5 L314.82 303.5 L317.94 303.5 L317.94 290.8 L321.06 290.8 L321.06 306.1 L324.18 306.1 L324.18 325.7 L327.3 325.7 L327.3 341.5 L330.42 341.5 L330.42 349.4 L333.54 349.4 L333.54 360.1 L336.66 360.1 L336.66 365.9 L339.78 365.9 L339.78 371.1Z" fill="#b3b3b3"/>
<line x1="235.2" y1="286.3" x2="235.2" y2="375.5" stroke="#000" stroke-width="1.2" />
<line x1="234.6" y1="374.9" x2="404.8" y2="374.9" stroke="#000" stroke-width="1.2" />
<line x1="233" y1="371.1" x2="235.2" y2="371.1" stroke="#222" stroke-width="0.8" />
<text x="230.9" y="373" font-size="4.5" text-anchor="end" fill="#333333" font-weight="normal" font-style="normal" >0</text>
<line x1="233" y1="351.65" x2="235.2" y2="351.65" stroke="#222" stroke-width="0.8" />
<text x="230.9" y="353.55" font-size="4.5" text-anchor="end" fill="#333333" font-weight="normal" font-style="normal" >500</text>
<line x1="233" y1="332.2" x2="235.2" y2="332.2" stroke="#222" stroke-width="0.8" />
<text x="230.9" y="334.1" font-size="4.5" text-anchor="end" fill="#333333" font-weight="normal" font-style="normal" >1000</text>
<line x1="233" y1="312.75" x2="235.2" y2="312.75" stroke="#222" stroke-width="0.8" />
<text x="230.9" y="314.65" font-size="4.5" text-anchor="end" fill="#333333" font-weight="normal" font-style="normal" >1500</text>
<line x1="233" y1="293.3" x2="235.2" y2="293.3" stroke="#222" stroke-width="0.8" />
<text x="230.9" y="295.2" font-size="4.5" text-anchor="end" fill="#333333" font-weight="normal" font-style="normal" >2000</text>
<line x1="271.1" y1="374.9" x2="271.1" y2="377.1" stroke="#222" stroke-width="0.8" />
<text x="271.1" y="380.5" font-size="4.45" text-anchor="middle" fill="#333333" font-weight="normal" font-style="normal" >-5</text>
<line x1="319.45" y1="374.9" x2="319.45" y2="377.1" stroke="#222" stroke-width="0.8" />
<text x="319.45" y="380.5" font-size="4.45" text-anchor="middle" fill="#333333" font-weight="normal" font-style="normal" >0</text>
<line x1="367.8" y1="374.9" x2="367.8" y2="377.1" stroke="#222" stroke-width="0.8" />
<text x="367.8" y="380.5" font-size="4.45" text-anchor="middle" fill="#333333" font-weight="normal" font-style="normal" >5</text>
<text x="318.9" y="282.5" font-size="6.9" text-anchor="middle" fill="#1a1a1a" font-weight="normal" font-style="italic" >Procypris rabaudi</text>
<text x="319.4" y="388" font-size="6.75" text-anchor="middle" fill="#1a1a1a" font-weight="normal" font-style="normal" >Log2(Expr_SubP+1/Expr_SubM+1)</text>
<text x="0" y="0" font-size="6.9" fill="#1a1a1a" text-anchor="middle" transform="translate(214.9,328.7) rotate(-90)">Count</text>
<text x="339" y="307.85" font-size="4.8" text-anchor="middle" fill="#222" font-weight="normal" font-style="normal" >All pairs</text>
<text x="339" y="313.9" font-size="4.8" text-anchor="middle" fill="#222" font-weight="normal" font-style="normal" >N=12245</text>
<text x="339" y="319.95" font-size="4.8" text-anchor="middle" fill="#222" font-weight="normal" font-style="normal" >Bias =-0.032</text>
<text x="289.1" y="336.25" font-size="4.8" text-anchor="middle" fill="#222" font-weight="normal" font-style="normal" >SubM</text>
<text x="289.1" y="342.3" font-size="4.8" text-anchor="middle" fill="#222" font-weight="normal" font-style="normal" >Biased pairs</text>
<text x="289.1" y="348.35" font-size="4.8" text-anchor="middle" fill="#222" font-weight="normal" font-style="normal" >N=404</text>
<text x="289.1" y="354.4" font-size="4.8" text-anchor="middle" fill="#222" font-weight="normal" font-style="normal" >Bias =-2.489</text>
<text x="350.2" y="336.25" font-size="4.8" text-anchor="middle" fill="#222" font-weight="normal" font-style="normal" >SubP</text>
<text x="350.2" y="342.3" font-size="4.8" text-anchor="middle" fill="#222" font-weight="normal" font-style="normal" >Biased pairs</text>
<text x="350.2" y="348.35" font-size="4.8" text-anchor="middle" fill="#222" font-weight="normal" font-style="normal" >N=371</text>
<text x="350.2" y="354.4" font-size="4.8" text-anchor="middle" fill="#222" font-weight="normal" font-style="normal" >Bias =2.496</text>
<text x="357.1" y="31.4" font-size="6.9" text-anchor="start" fill="#1a1a1a" font-weight="normal" font-style="normal" >Bias</text>
<rect x="357.2" y="35.8" width="7" height="7" fill="#f4776e" stroke="none" stroke-width="0" />
<rect x="357.2" y="43.8" width="7" height="7" fill="#1fbcbf" stroke="none" stroke-width="0" />
<rect x="357.2" y="51.8" width="7" height="7" fill="#b3b3b3" stroke="none" stroke-width="0" />
<text x="368.3" y="41.7" font-size="6.7" text-anchor="start" fill="#1a1a1a" font-weight="normal" font-style="normal" >SubP Biased</text>
<text x="368.3" y="49.7" font-size="6.7" text-anchor="start" fill="#1a1a1a" font-weight="normal" font-style="normal" >SubM Biased</text>
<text x="368.3" y="57.7" font-size="6.7" text-anchor="start" fill="#1a1a1a" font-weight="normal" font-style="normal" >Unbiased</text>
<rect x="483.13" y="114.2" width="11.11" height="0.9" fill="#7f7ffa" stroke="#2a2a2a" stroke-width="0.65" />
<rect x="494.24" y="113.1" width="11.11" height="2" fill="#7f7ffa" stroke="#2a2a2a" stroke-width="0.65" />
<rect x="505.35" y="109.3" width="11.11" height="5.8" fill="#7f7ffa" stroke="#2a2a2a" stroke-width="0.65" />
<rect x="516.46" y="103" width="11.11" height="12.1" fill="#7f7ffa" stroke="#2a2a2a" stroke-width="0.65" />
<rect x="527.57" y="86.6" width="11.11" height="28.5" fill="#7f7ffa" stroke="#2a2a2a" stroke-width="0.65" />
<rect x="538.68" y="56.8" width="11.11" height="58.3" fill="#7f7ffa" stroke="#2a2a2a" stroke-width="0.65" />
<rect x="549.79" y="14.3" width="11.11" height="100.8" fill="#7f7ffa" stroke="#2a2a2a" stroke-width="0.65" />
<rect x="560.9" y="17" width="11.11" height="98.1" fill="#7f7ffa" stroke="#2a2a2a" stroke-width="0.65" />
<rect x="572.01" y="59.6" width="11.11" height="55.5" fill="#7f7ffa" stroke="#2a2a2a" stroke-width="0.65" />
<rect x="583.12" y="90.9" width="11.11" height="24.2" fill="#7f7ffa" stroke="#2a2a2a" stroke-width="0.65" />
<rect x="594.23" y="103.3" width="11.11" height="11.8" fill="#7f7ffa" stroke="#2a2a2a" stroke-width="0.65" />
<rect x="605.34" y="110.3" width="11.11" height="4.8" fill="#7f7ffa" stroke="#2a2a2a" stroke-width="0.65" />
<rect x="616.45" y="113.1" width="11.11" height="2" fill="#7f7ffa" stroke="#2a2a2a" stroke-width="0.65" />
<rect x="627.56" y="114.2" width="11.11" height="0.9" fill="#7f7ffa" stroke="#2a2a2a" stroke-width="0.65" />
<line x1="560.8" y1="9.3" x2="560.8" y2="115.1" stroke="#000" stroke-width="1.6" />
<rect x="439.2" y="9.3" width="242.9" height="105.8" fill="none" stroke="#1a1a1a" stroke-width="1.2" />
<line x1="439.2" y1="8.7" x2="439.2" y2="115.7" stroke="#444" stroke-width="1.5" />
<line x1="437" y1="115.1" x2="439.2" y2="115.1" stroke="#222" stroke-width="0.8" />
<text x="436.2" y="116.8" font-size="4.5" text-anchor="end" fill="#333333" font-weight="normal" font-style="normal" >0</text>
<line x1="437" y1="100.72" x2="439.2" y2="100.72" stroke="#222" stroke-width="0.8" />
<text x="436.2" y="102.42" font-size="4.5" text-anchor="end" fill="#333333" font-weight="normal" font-style="normal" >250</text>
<line x1="437" y1="86.34" x2="439.2" y2="86.34" stroke="#222" stroke-width="0.8" />
<text x="436.2" y="88.04" font-size="4.5" text-anchor="end" fill="#333333" font-weight="normal" font-style="normal" >500</text>
<line x1="437" y1="71.96" x2="439.2" y2="71.96" stroke="#222" stroke-width="0.8" />
<text x="436.2" y="73.66" font-size="4.5" text-anchor="end" fill="#333333" font-weight="normal" font-style="normal" >750</text>
<line x1="437" y1="57.58" x2="439.2" y2="57.58" stroke="#222" stroke-width="0.8" />
<text x="436.2" y="59.28" font-size="4.5" text-anchor="end" fill="#333333" font-weight="normal" font-style="normal" >1000</text>
<line x1="437" y1="43.2" x2="439.2" y2="43.2" stroke="#222" stroke-width="0.8" />
<text x="436.2" y="44.9" font-size="4.5" text-anchor="end" fill="#333333" font-weight="normal" font-style="normal" >1250</text>
<line x1="437" y1="28.82" x2="439.2" y2="28.82" stroke="#222" stroke-width="0.8" />
<text x="436.2" y="30.52" font-size="4.5" text-anchor="end" fill="#333333" font-weight="normal" font-style="normal" >1500</text>
<line x1="437" y1="14.44" x2="439.2" y2="14.44" stroke="#222" stroke-width="0.8" />
<text x="436.2" y="16.14" font-size="4.5" text-anchor="end" fill="#333333" font-weight="normal" font-style="normal" >1750</text>
<line x1="449.8" y1="115.1" x2="449.8" y2="116.7" stroke="#222" stroke-width="0.8" />
<text x="449.8" y="122" font-size="4.45" text-anchor="middle" fill="#333333" font-weight="normal" font-style="normal" >-1.0</text>
<line x1="460.91" y1="115.1" x2="460.91" y2="116.7" stroke="#222" stroke-width="0.8" />
<text x="460.91" y="122" font-size="4.45" text-anchor="middle" fill="#333333" font-weight="normal" font-style="normal" >-0.9</text>
<line x1="472.02" y1="115.1" x2="472.02" y2="116.7" stroke="#222" stroke-width="0.8" />
<text x="472.02" y="122" font-size="4.45" text-anchor="middle" fill="#333333" font-weight="normal" font-style="normal" >-0.8</text>
<line x1="483.13" y1="115.1" x2="483.13" y2="116.7" stroke="#222" stroke-width="0.8" />
<text x="483.13" y="122" font-size="4.45" text-anchor="middle" fill="#333333" font-weight="normal" font-style="normal" >-0.7</text>
<line x1="494.24" y1="115.1" x2="494.24" y2="116.7" stroke="#222" stroke-width="0.8" />
<text x="494.24" y="122" font-size="4.45" text-anchor="middle" fill="#333333" font-weight="normal" font-style="normal" >-0.6</text>
<line x1="505.35" y1="115.1" x2="505.35" y2="116.7" stroke="#222" stroke-width="0.8" />
<text x="505.35" y="122" font-size="4.45" text-anchor="middle" fill="#333333" font-weight="normal" font-style="normal" >-0.5</text>
<line x1="516.46" y1="115.1" x2="516.46" y2="116.7" stroke="#222" stroke-width="0.8" />
<text x="516.46" y="122" font-size="4.45" text-anchor="middle" fill="#333333" font-weight="normal" font-style="normal" >-0.4</text>
<line x1="527.57" y1="115.1" x2="527.57" y2="116.7" stroke="#222" stroke-width="0.8" />
<text x="527.57" y="122" font-size="4.45" text-anchor="middle" fill="#333333" font-weight="normal" font-style="normal" >-0.3</text>
<line x1="538.68" y1="115.1" x2="538.68" y2="116.7" stroke="#222" stroke-width="0.8" />
<text x="538.68" y="122" font-size="4.45" text-anchor="middle" fill="#333333" font-weight="normal" font-style="normal" >-0.2</text>
<line x1="549.79" y1="115.1" x2="549.79" y2="116.7" stroke="#222" stroke-width="0.8" />
<text x="549.79" y="122" font-size="4.45" text-anchor="middle" fill="#333333" font-weight="normal" font-style="normal" >-0.1</text>
<line x1="560.9" y1="115.1" x2="560.9" y2="116.7" stroke="#222" stroke-width="0.8" />
<text x="560.9" y="122" font-size="4.45" text-anchor="middle" fill="#333333" font-weight="normal" font-style="normal" >0.0</text>
<line x1="572.01" y1="115.1" x2="572.01" y2="116.7" stroke="#222" stroke-width="0.8" />
<text x="572.01" y="122" font-size="4.45" text-anchor="middle" fill="#333333" font-weight="normal" font-style="normal" >0.1</text>
<line x1="583.12" y1="115.1" x2="583.12" y2="116.7" stroke="#222" stroke-width="0.8" />
<text x="583.12" y="122" font-size="4.45" text-anchor="middle" fill="#333333" font-weight="normal" font-style="normal" >0.2</text>
<line x1="594.23" y1="115.1" x2="594.23" y2="116.7" stroke="#222" stroke-width="0.8" />
<text x="594.23" y="122" font-size="4.45" text-anchor="middle" fill="#333333" font-weight="normal" font-style="normal" >0.3</text>
<line x1="605.34" y1="115.1" x2="605.34" y2="116.7" stroke="#222" stroke-width="0.8" />
<text x="605.34" y="122" font-size="4.45" text-anchor="middle" fill="#333333" font-weight="normal" font-style="normal" >0.4</text>
<line x1="616.45" y1="115.1" x2="616.45" y2="116.7" stroke="#222" stroke-width="0.8" />
<text x="616.45" y="122" font-size="4.45" text-anchor="middle" fill="#333333" font-weight="normal" font-style="normal" >0.5</text>
<line x1="627.56" y1="115.1" x2="627.56" y2="116.7" stroke="#222" stroke-width="0.8" />
<text x="627.56" y="122" font-size="4.45" text-anchor="middle" fill="#333333" font-weight="normal" font-style="normal" >0.6</text>
<line x1="638.67" y1="115.1" x2="638.67" y2="116.7" stroke="#222" stroke-width="0.8" />
<text x="638.67" y="122" font-size="4.45" text-anchor="middle" fill="#333333" font-weight="normal" font-style="normal" >0.7</text>
<line x1="649.78" y1="115.1" x2="649.78" y2="116.7" stroke="#222" stroke-width="0.8" />
<text x="649.78" y="122" font-size="4.45" text-anchor="middle" fill="#333333" font-weight="normal" font-style="normal" >0.8</text>
<line x1="660.89" y1="115.1" x2="660.89" y2="116.7" stroke="#222" stroke-width="0.8" />
<text x="660.89" y="122" font-size="4.45" text-anchor="middle" fill="#333333" font-weight="normal" font-style="normal" >0.9</text>
<line x1="672" y1="115.1" x2="672" y2="116.7" stroke="#222" stroke-width="0.8" />
<text x="672" y="122" font-size="4.45" text-anchor="middle" fill="#333333" font-weight="normal" font-style="normal" >1.0</text>
<text x="442.9" y="17.6" font-size="7" text-anchor="start" fill="#111" font-weight="bold" font-style="italic" >Spinibarbus sinensis</text>
<text x="552.3" y="127.7" font-size="6.75" text-anchor="middle" fill="#1a1a1a" font-weight="normal" font-style="normal" >Difference in TE Density Values</text>
<text x="0" y="0" font-size="6.75" fill="#1a1a1a" text-anchor="middle" transform="translate(422.6,65.4) rotate(-90)">Number of Genes</text>
<text x="492.4" y="69.5" font-size="6.8" text-anchor="middle" fill="#1a1a1a" font-weight="normal" font-style="normal" >SubgenomeP</text>
<text x="636.6" y="69.5" font-size="6.75" text-anchor="middle" fill="#1a1a1a" font-weight="normal" font-style="normal" >SubgenomeM</text>
<text x="619.1" y="16.6" font-size="4.55" text-anchor="start" fill="#1a1a1a" font-weight="normal" font-style="normal" >Total Plotted Genes: 7032</text>
<text x="619.1" y="22.32" font-size="4.55" text-anchor="start" fill="#1a1a1a" font-weight="normal" font-style="normal" >TE type: Total TE Density</text>
<text x="619.1" y="28.04" font-size="4.55" text-anchor="start" fill="#1a1a1a" font-weight="normal" font-style="normal" >Window: 10000 bp</text>
<text x="619.1" y="33.76" font-size="4.55" text-anchor="start" fill="#1a1a1a" font-weight="normal" font-style="normal" >Direction: Upstream</text>
<text x="619.1" y="39.48" font-size="4.55" text-anchor="start" fill="#1a1a1a" font-weight="normal" font-style="normal" >No. 0 Differences: 8</text>
<rect x="483.13" y="242.4" width="11.11" height="0.5" fill="#7f7ffa" stroke="#2a2a2a" stroke-width="0.65" />
<rect x="494.24" y="241.6" width="11.11" height="1.3" fill="#7f7ffa" stroke="#2a2a2a" stroke-width="0.65" />
<rect x="505.35" y="240" width="11.11" height="2.9" fill="#7f7ffa" stroke="#2a2a2a" stroke-width="0.65" />
<rect x="516.46" y="236.3" width="11.11" height="6.6" fill="#7f7ffa" stroke="#2a2a2a" stroke-width="0.65" />
<rect x="527.57" y="226.7" width="11.11" height="16.2" fill="#7f7ffa" stroke="#2a2a2a" stroke-width="0.65" />
<rect x="538.68" y="206.2" width="11.11" height="36.7" fill="#7f7ffa" stroke="#2a2a2a" stroke-width="0.65" />
<rect x="549.79" y="153.3" width="11.11" height="89.6" fill="#7f7ffa" stroke="#2a2a2a" stroke-width="0.65" />
<rect x="560.9" y="142.7" width="11.11" height="100.2" fill="#7f7ffa" stroke="#2a2a2a" stroke-width="0.65" />
<rect x="572.01" y="185.4" width="11.11" height="57.5" fill="#7f7ffa" stroke="#2a2a2a" stroke-width="0.65" />
<rect x="583.12" y="215" width="11.11" height="27.9" fill="#7f7ffa" stroke="#2a2a2a" stroke-width="0.65" />
<rect x="594.23" y="230.2" width="11.11" height="12.7" fill="#7f7ffa" stroke="#2a2a2a" stroke-width="0.65" />
<rect x="605.34" y="237.3" width="11.11" height="5.6" fill="#7f7ffa" stroke="#2a2a2a" stroke-width="0.65" />
<rect x="616.45" y="241.1" width="11.11" height="1.8" fill="#7f7ffa" stroke="#2a2a2a" stroke-width="0.65" />
<rect x="627.56" y="242.1" width="11.11" height="0.8" fill="#7f7ffa" stroke="#2a2a2a" stroke-width="0.65" />
<line x1="560.8" y1="137.6" x2="560.8" y2="242.9" stroke="#000" stroke-width="1.6" />
<rect x="439.1" y="137.6" width="242.8" height="105.3" fill="none" stroke="#1a1a1a" stroke-width="1.2" />
<line x1="439.1" y1="137" x2="439.1" y2="243.5" stroke="#444" stroke-width="1.5" />
<line x1="436.9" y1="242.9" x2="439.1" y2="242.9" stroke="#222" stroke-width="0.8" />
<text x="436.1" y="244.6" font-size="4.5" text-anchor="end" fill="#333333" font-weight="normal" font-style="normal" >0</text>
<line x1="436.9" y1="230.1" x2="439.1" y2="230.1" stroke="#222" stroke-width="0.8" />
<text x="436.1" y="231.8" font-size="4.5" text-anchor="end" fill="#333333" font-weight="normal" font-style="normal" >250</text>
<line x1="436.9" y1="217.3" x2="439.1" y2="217.3" stroke="#222" stroke-width="0.8" />
<text x="436.1" y="219" font-size="4.5" text-anchor="end" fill="#333333" font-weight="normal" font-style="normal" >500</text>
<line x1="436.9" y1="204.5" x2="439.1" y2="204.5" stroke="#222" stroke-width="0.8" />
<text x="436.1" y="206.2" font-size="4.5" text-anchor="end" fill="#333333" font-weight="normal" font-style="normal" >750</text>
<line x1="436.9" y1="191.7" x2="439.1" y2="191.7" stroke="#222" stroke-width="0.8" />
<text x="436.1" y="193.4" font-size="4.5" text-anchor="end" fill="#333333" font-weight="normal" font-style="normal" >1000</text>
<line x1="436.9" y1="178.9" x2="439.1" y2="178.9" stroke="#222" stroke-width="0.8" />
<text x="436.1" y="180.6" font-size="4.5" text-anchor="end" fill="#333333" font-weight="normal" font-style="normal" >1250</text>
<line x1="436.9" y1="166.1" x2="439.1" y2="166.1" stroke="#222" stroke-width="0.8" />
<text x="436.1" y="167.8" font-size="4.5" text-anchor="end" fill="#333333" font-weight="normal" font-style="normal" >1500</text>
<line x1="436.9" y1="153.3" x2="439.1" y2="153.3" stroke="#222" stroke-width="0.8" />
<text x="436.1" y="155" font-size="4.5" text-anchor="end" fill="#333333" font-weight="normal" font-style="normal" >1750</text>
<line x1="436.9" y1="140.5" x2="439.1" y2="140.5" stroke="#222" stroke-width="0.8" />
<text x="436.1" y="142.2" font-size="4.5" text-anchor="end" fill="#333333" font-weight="normal" font-style="normal" >2000</text>
<line x1="449.8" y1="242.9" x2="449.8" y2="244.5" stroke="#222" stroke-width="0.8" />
<text x="449.8" y="249.5" font-size="4.45" text-anchor="middle" fill="#333333" font-weight="normal" font-style="normal" >-1.0</text>
<line x1="460.91" y1="242.9" x2="460.91" y2="244.5" stroke="#222" stroke-width="0.8" />
<text x="460.91" y="249.5" font-size="4.45" text-anchor="middle" fill="#333333" font-weight="normal" font-style="normal" >-0.9</text>
<line x1="472.02" y1="242.9" x2="472.02" y2="244.5" stroke="#222" stroke-width="0.8" />
<text x="472.02" y="249.5" font-size="4.45" text-anchor="middle" fill="#333333" font-weight="normal" font-style="normal" >-0.8</text>
<line x1="483.13" y1="242.9" x2="483.13" y2="244.5" stroke="#222" stroke-width="0.8" />
<text x="483.13" y="249.5" font-size="4.45" text-anchor="middle" fill="#333333" font-weight="normal" font-style="normal" >-0.7</text>
<line x1="494.24" y1="242.9" x2="494.24" y2="244.5" stroke="#222" stroke-width="0.8" />
<text x="494.24" y="249.5" font-size="4.45" text-anchor="middle" fill="#333333" font-weight="normal" font-style="normal" >-0.6</text>
<line x1="505.35" y1="242.9" x2="505.35" y2="244.5" stroke="#222" stroke-width="0.8" />
<text x="505.35" y="249.5" font-size="4.45" text-anchor="middle" fill="#333333" font-weight="normal" font-style="normal" >-0.5</text>
<line x1="516.46" y1="242.9" x2="516.46" y2="244.5" stroke="#222" stroke-width="0.8" />
<text x="516.46" y="249.5" font-size="4.45" text-anchor="middle" fill="#333333" font-weight="normal" font-style="normal" >-0.4</text>
<line x1="527.57" y1="242.9" x2="527.57" y2="244.5" stroke="#222" stroke-width="0.8" />
<text x="527.57" y="249.5" font-size="4.45" text-anchor="middle" fill="#333333" font-weight="normal" font-style="normal" >-0.3</text>
<line x1="538.68" y1="242.9" x2="538.68" y2="244.5" stroke="#222" stroke-width="0.8" />
<text x="538.68" y="249.5" font-size="4.45" text-anchor="middle" fill="#333333" font-weight="normal" font-style="normal" >-0.2</text>
<line x1="549.79" y1="242.9" x2="549.79" y2="244.5" stroke="#222" stroke-width="0.8" />
<text x="549.79" y="249.5" font-size="4.45" text-anchor="middle" fill="#333333" font-weight="normal" font-style="normal" >-0.1</text>
<line x1="560.9" y1="242.9" x2="560.9" y2="244.5" stroke="#222" stroke-width="0.8" />
<text x="560.9" y="249.5" font-size="4.45" text-anchor="middle" fill="#333333" font-weight="normal" font-style="normal" >0.0</text>
<line x1="572.01" y1="242.9" x2="572.01" y2="244.5" stroke="#222" stroke-width="0.8" />
<text x="572.01" y="249.5" font-size="4.45" text-anchor="middle" fill="#333333" font-weight="normal" font-style="normal" >0.1</text>
<line x1="583.12" y1="242.9" x2="583.12" y2="244.5" stroke="#222" stroke-width="0.8" />
<text x="583.12" y="249.5" font-size="4.45" text-anchor="middle" fill="#333333" font-weight="normal" font-style="normal" >0.2</text>
<line x1="594.23" y1="242.9" x2="594.23" y2="244.5" stroke="#222" stroke-width="0.8" />
<text x="594.23" y="249.5" font-size="4.45" text-anchor="middle" fill="#333333" font-weight="normal" font-style="normal" >0.3</text>
<line x1="605.34" y1="242.9" x2="605.34" y2="244.5" stroke="#222" stroke-width="0.8" />
<text x="605.34" y="249.5" font-size="4.45" text-anchor="middle" fill="#333333" font-weight="normal" font-style="normal" >0.4</text>
<line x1="616.45" y1="242.9" x2="616.45" y2="244.5" stroke="#222" stroke-width="0.8" />
<text x="616.45" y="249.5" font-size="4.45" text-anchor="middle" fill="#333333" font-weight="normal" font-style="normal" >0.5</text>
<line x1="627.56" y1="242.9" x2="627.56" y2="244.5" stroke="#222" stroke-width="0.8" />
<text x="627.56" y="249.5" font-size="4.45" text-anchor="middle" fill="#333333" font-weight="normal" font-style="normal" >0.6</text>
<line x1="638.67" y1="242.9" x2="638.67" y2="244.5" stroke="#222" stroke-width="0.8" />
<text x="638.67" y="249.5" font-size="4.45" text-anchor="middle" fill="#333333" font-weight="normal" font-style="normal" >0.7</text>
<line x1="649.78" y1="242.9" x2="649.78" y2="244.5" stroke="#222" stroke-width="0.8" />
<text x="649.78" y="249.5" font-size="4.45" text-anchor="middle" fill="#333333" font-weight="normal" font-style="normal" >0.8</text>
<line x1="660.89" y1="242.9" x2="660.89" y2="244.5" stroke="#222" stroke-width="0.8" />
<text x="660.89" y="249.5" font-size="4.45" text-anchor="middle" fill="#333333" font-weight="normal" font-style="normal" >0.9</text>
<line x1="672" y1="242.9" x2="672" y2="244.5" stroke="#222" stroke-width="0.8" />
<text x="672" y="249.5" font-size="4.45" text-anchor="middle" fill="#333333" font-weight="normal" font-style="normal" >1.0</text>
<text x="442.9" y="147" font-size="7" text-anchor="start" fill="#111" font-weight="bold" font-style="italic" >Luciobarbus capito</text>
<text x="552.3" y="256" font-size="6.75" text-anchor="middle" fill="#1a1a1a" font-weight="normal" font-style="normal" >Difference in TE Density Values</text>
<text x="0" y="0" font-size="6.75" fill="#1a1a1a" text-anchor="middle" transform="translate(422.6,186.5) rotate(-90)">Number of Genes</text>
<text x="492.4" y="202.6" font-size="6.8" text-anchor="middle" fill="#1a1a1a" font-weight="normal" font-style="normal" >SubgenomeP</text>
<text x="636.6" y="202.6" font-size="6.75" text-anchor="middle" fill="#1a1a1a" font-weight="normal" font-style="normal" >SubgenomeM</text>
<text x="619.1" y="144" font-size="4.55" text-anchor="start" fill="#1a1a1a" font-weight="normal" font-style="normal" >Total Plotted Genes: 7035</text>
<text x="619.1" y="149.72" font-size="4.55" text-anchor="start" fill="#1a1a1a" font-weight="normal" font-style="normal" >TE type: Total TE Density</text>
<text x="619.1" y="155.44" font-size="4.55" text-anchor="start" fill="#1a1a1a" font-weight="normal" font-style="normal" >Window: 10000 bp</text>
<text x="619.1" y="161.16" font-size="4.55" text-anchor="start" fill="#1a1a1a" font-weight="normal" font-style="normal" >Direction: Upstream</text>
<text x="619.1" y="166.88" font-size="4.55" text-anchor="start" fill="#1a1a1a" font-weight="normal" font-style="normal" >No. 0 Differences: 5</text>
<rect x="483.13" y="374" width="11.11" height="0.7" fill="#7f7ffa" stroke="#2a2a2a" stroke-width="0.65" />
<rect x="494.24" y="372.1" width="11.11" height="2.6" fill="#7f7ffa" stroke="#2a2a2a" stroke-width="0.65" />
<rect x="505.35" y="369.5" width="11.11" height="5.2" fill="#7f7ffa" stroke="#2a2a2a" stroke-width="0.65" />
<rect x="516.46" y="361.3" width="11.11" height="13.4" fill="#7f7ffa" stroke="#2a2a2a" stroke-width="0.65" />
<rect x="527.57" y="341" width="11.11" height="33.7" fill="#7f7ffa" stroke="#2a2a2a" stroke-width="0.65" />
<rect x="538.68" y="312" width="11.11" height="62.7" fill="#7f7ffa" stroke="#2a2a2a" stroke-width="0.65" />
<rect x="549.79" y="274.3" width="11.11" height="100.4" fill="#7f7ffa" stroke="#2a2a2a" stroke-width="0.65" />
<rect x="560.9" y="277.6" width="11.11" height="97.1" fill="#7f7ffa" stroke="#2a2a2a" stroke-width="0.65" />
<rect x="572.01" y="310.6" width="11.11" height="64.1" fill="#7f7ffa" stroke="#2a2a2a" stroke-width="0.65" />
<rect x="583.12" y="343" width="11.11" height="31.7" fill="#7f7ffa" stroke="#2a2a2a" stroke-width="0.65" />
<rect x="594.23" y="361.3" width="11.11" height="13.4" fill="#7f7ffa" stroke="#2a2a2a" stroke-width="0.65" />
<rect x="605.34" y="369" width="11.11" height="5.7" fill="#7f7ffa" stroke="#2a2a2a" stroke-width="0.65" />
<rect x="616.45" y="372.4" width="11.11" height="2.3" fill="#7f7ffa" stroke="#2a2a2a" stroke-width="0.65" />
<rect x="627.56" y="373.5" width="11.11" height="1.2" fill="#7f7ffa" stroke="#2a2a2a" stroke-width="0.65" />
<line x1="560.8" y1="269.5" x2="560.8" y2="374.7" stroke="#000" stroke-width="1.6" />
<rect x="439.1" y="269.5" width="242.7" height="105.2" fill="none" stroke="#1a1a1a" stroke-width="1.2" />
<line x1="439.1" y1="268.9" x2="439.1" y2="375.3" stroke="#444" stroke-width="1.5" />
<line x1="436.9" y1="374.7" x2="439.1" y2="374.7" stroke="#222" stroke-width="0.8" />
<text x="436.1" y="376.4" font-size="4.5" text-anchor="end" fill="#333333" font-weight="normal" font-style="normal" >0</text>
<line x1="436.9" y1="362.43" x2="439.1" y2="362.43" stroke="#222" stroke-width="0.8" />
<text x="436.1" y="364.13" font-size="4.5" text-anchor="end" fill="#333333" font-weight="normal" font-style="normal" >200</text>
<line x1="436.9" y1="350.16" x2="439.1" y2="350.16" stroke="#222" stroke-width="0.8" />
<text x="436.1" y="351.86" font-size="4.5" text-anchor="end" fill="#333333" font-weight="normal" font-style="normal" >400</text>
<line x1="436.9" y1="337.89" x2="439.1" y2="337.89" stroke="#222" stroke-width="0.8" />
<text x="436.1" y="339.59" font-size="4.5" text-anchor="end" fill="#333333" font-weight="normal" font-style="normal" >600</text>
<line x1="436.9" y1="325.62" x2="439.1" y2="325.62" stroke="#222" stroke-width="0.8" />
<text x="436.1" y="327.32" font-size="4.5" text-anchor="end" fill="#333333" font-weight="normal" font-style="normal" >800</text>
<line x1="436.9" y1="313.35" x2="439.1" y2="313.35" stroke="#222" stroke-width="0.8" />
<text x="436.1" y="315.05" font-size="4.5" text-anchor="end" fill="#333333" font-weight="normal" font-style="normal" >1000</text>
<line x1="436.9" y1="301.08" x2="439.1" y2="301.08" stroke="#222" stroke-width="0.8" />
<text x="436.1" y="302.78" font-size="4.5" text-anchor="end" fill="#333333" font-weight="normal" font-style="normal" >1200</text>
<line x1="436.9" y1="288.81" x2="439.1" y2="288.81" stroke="#222" stroke-width="0.8" />
<text x="436.1" y="290.51" font-size="4.5" text-anchor="end" fill="#333333" font-weight="normal" font-style="normal" >1400</text>
<line x1="436.9" y1="276.54" x2="439.1" y2="276.54" stroke="#222" stroke-width="0.8" />
<text x="436.1" y="278.24" font-size="4.5" text-anchor="end" fill="#333333" font-weight="normal" font-style="normal" >1600</text>
<line x1="449.8" y1="374.7" x2="449.8" y2="376.3" stroke="#222" stroke-width="0.8" />
<text x="449.8" y="381.6" font-size="4.45" text-anchor="middle" fill="#333333" font-weight="normal" font-style="normal" >-1.0</text>
<line x1="460.91" y1="374.7" x2="460.91" y2="376.3" stroke="#222" stroke-width="0.8" />
<text x="460.91" y="381.6" font-size="4.45" text-anchor="middle" fill="#333333" font-weight="normal" font-style="normal" >-0.9</text>
<line x1="472.02" y1="374.7" x2="472.02" y2="376.3" stroke="#222" stroke-width="0.8" />
<text x="472.02" y="381.6" font-size="4.45" text-anchor="middle" fill="#333333" font-weight="normal" font-style="normal" >-0.8</text>
<line x1="483.13" y1="374.7" x2="483.13" y2="376.3" stroke="#222" stroke-width="0.8" />
<text x="483.13" y="381.6" font-size="4.45" text-anchor="middle" fill="#333333" font-weight="normal" font-style="normal" >-0.7</text>
<line x1="494.24" y1="374.7" x2="494.24" y2="376.3" stroke="#222" stroke-width="0.8" />
<text x="494.24" y="381.6" font-size="4.45" text-anchor="middle" fill="#333333" font-weight="normal" font-style="normal" >-0.6</text>
<line x1="505.35" y1="374.7" x2="505.35" y2="376.3" stroke="#222" stroke-width="0.8" />
<text x="505.35" y="381.6" font-size="4.45" text-anchor="middle" fill="#333333" font-weight="normal" font-style="normal" >-0.5</text>
<line x1="516.46" y1="374.7" x2="516.46" y2="376.3" stroke="#222" stroke-width="0.8" />
<text x="516.46" y="381.6" font-size="4.45" text-anchor="middle" fill="#333333" font-weight="normal" font-style="normal" >-0.4</text>
<line x1="527.57" y1="374.7" x2="527.57" y2="376.3" stroke="#222" stroke-width="0.8" />
<text x="527.57" y="381.6" font-size="4.45" text-anchor="middle" fill="#333333" font-weight="normal" font-style="normal" >-0.3</text>
<line x1="538.68" y1="374.7" x2="538.68" y2="376.3" stroke="#222" stroke-width="0.8" />
<text x="538.68" y="381.6" font-size="4.45" text-anchor="middle" fill="#333333" font-weight="normal" font-style="normal" >-0.2</text>
<line x1="549.79" y1="374.7" x2="549.79" y2="376.3" stroke="#222" stroke-width="0.8" />
<text x="549.79" y="381.6" font-size="4.45" text-anchor="middle" fill="#333333" font-weight="normal" font-style="normal" >-0.1</text>
<line x1="560.9" y1="374.7" x2="560.9" y2="376.3" stroke="#222" stroke-width="0.8" />
<text x="560.9" y="381.6" font-size="4.45" text-anchor="middle" fill="#333333" font-weight="normal" font-style="normal" >0.0</text>
<line x1="572.01" y1="374.7" x2="572.01" y2="376.3" stroke="#222" stroke-width="0.8" />
<text x="572.01" y="381.6" font-size="4.45" text-anchor="middle" fill="#333333" font-weight="normal" font-style="normal" >0.1</text>
<line x1="583.12" y1="374.7" x2="583.12" y2="376.3" stroke="#222" stroke-width="0.8" />
<text x="583.12" y="381.6" font-size="4.45" text-anchor="middle" fill="#333333" font-weight="normal" font-style="normal" >0.2</text>
<line x1="594.23" y1="374.7" x2="594.23" y2="376.3" stroke="#222" stroke-width="0.8" />
<text x="594.23" y="381.6" font-size="4.45" text-anchor="middle" fill="#333333" font-weight="normal" font-style="normal" >0.3</text>
<line x1="605.34" y1="374.7" x2="605.34" y2="376.3" stroke="#222" stroke-width="0.8" />
<text x="605.34" y="381.6" font-size="4.45" text-anchor="middle" fill="#333333" font-weight="normal" font-style="normal" >0.4</text>
<line x1="616.45" y1="374.7" x2="616.45" y2="376.3" stroke="#222" stroke-width="0.8" />
<text x="616.45" y="381.6" font-size="4.45" text-anchor="middle" fill="#333333" font-weight="normal" font-style="normal" >0.5</text>
<line x1="627.56" y1="374.7" x2="627.56" y2="376.3" stroke="#222" stroke-width="0.8" />
<text x="627.56" y="381.6" font-size="4.45" text-anchor="middle" fill="#333333" font-weight="normal" font-style="normal" >0.6</text>
<line x1="638.67" y1="374.7" x2="638.67" y2="376.3" stroke="#222" stroke-width="0.8" />
<text x="638.67" y="381.6" font-size="4.45" text-anchor="middle" fill="#333333" font-weight="normal" font-style="normal" >0.7</text>
<line x1="649.78" y1="374.7" x2="649.78" y2="376.3" stroke="#222" stroke-width="0.8" />
<text x="649.78" y="381.6" font-size="4.45" text-anchor="middle" fill="#333333" font-weight="normal" font-style="normal" >0.8</text>
<line x1="660.89" y1="374.7" x2="660.89" y2="376.3" stroke="#222" stroke-width="0.8" />
<text x="660.89" y="381.6" font-size="4.45" text-anchor="middle" fill="#333333" font-weight="normal" font-style="normal" >0.9</text>
<line x1="672" y1="374.7" x2="672" y2="376.3" stroke="#222" stroke-width="0.8" />
<text x="672" y="381.6" font-size="4.45" text-anchor="middle" fill="#333333" font-weight="normal" font-style="normal" >1.0</text>
<text x="442.9" y="277.8" font-size="7" text-anchor="start" fill="#111" font-weight="bold" font-style="italic" >Procypris rabaudi</text>
<text x="552.3" y="388.4" font-size="6.75" text-anchor="middle" fill="#1a1a1a" font-weight="normal" font-style="normal" >Difference in TE Density Values</text>
<text x="0" y="0" font-size="6.75" fill="#1a1a1a" text-anchor="middle" transform="translate(422.6,320.7) rotate(-90)">Number of Genes</text>
<text x="492.4" y="327.4" font-size="6.8" text-anchor="middle" fill="#1a1a1a" font-weight="normal" font-style="normal" >SubgenomeP</text>
<text x="636.6" y="327.4" font-size="6.75" text-anchor="middle" fill="#1a1a1a" font-weight="normal" font-style="normal" >SubgenomeM</text>
<text x="619.1" y="276" font-size="4.55" text-anchor="start" fill="#1a1a1a" font-weight="normal" font-style="normal" >Total Plotted Genes: 7037</text>
<text x="619.1" y="281.72" font-size="4.55" text-anchor="start" fill="#1a1a1a" font-weight="normal" font-style="normal" >TE type: Total TE Density</text>
<text x="619.1" y="287.44" font-size="4.55" text-anchor="start" fill="#1a1a1a" font-weight="normal" font-style="normal" >Window: 10000 bp</text>
<text x="619.1" y="293.16" font-size="4.55" text-anchor="start" fill="#1a1a1a" font-weight="normal" font-style="normal" >Direction: Upstream</text>
<text x="619.1" y="298.88" font-size="4.55" text-anchor="start" fill="#1a1a1a" font-weight="normal" font-style="normal" >No. 0 Differences: 3</text></svg></body></html>
